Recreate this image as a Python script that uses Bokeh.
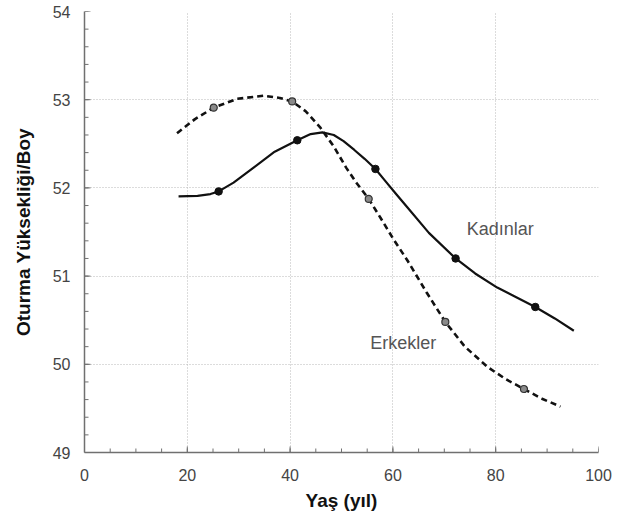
from bokeh.plotting import figure
from bokeh.models import Range1d, Label, FixedTicker
from bokeh.embed import file_html
from bokeh.resources import INLINE

# Curve traces
kadin_curve_x = [18.3, 22, 24.5, 26.1, 29, 32.9, 37, 41.4, 44, 46.3, 48.5, 50.4, 52.5,
                 54.5, 56.6, 58.5, 60.5, 62.8, 67, 72.2, 76, 80.3, 84, 87.7, 91.5, 95.2]
kadin_curve_y = [51.905, 51.91, 51.93, 51.96, 52.06, 52.23, 52.41, 52.54, 52.61, 52.63,
                 52.6, 52.53, 52.43, 52.33, 52.215, 52.08, 51.94, 51.78, 51.49, 51.2,
                 51.03, 50.87, 50.76, 50.65, 50.52, 50.38]
erkek_curve_x = [18.0, 21.5, 25.15, 29.7, 34.8, 38, 40.4, 43, 45.8, 48.5, 50.9, 53, 55.3,
                 57.7, 60.2, 62.8, 66.5, 70.2, 74, 78.4, 82, 85.5, 89, 92.6]
erkek_curve_y = [52.62, 52.78, 52.91, 53.01, 53.045, 53.02, 52.98, 52.87, 52.69, 52.47,
                 52.23, 52.05, 51.875, 51.65, 51.41, 51.18, 50.82, 50.48, 50.2, 49.97,
                 49.83, 49.72, 49.61, 49.52]

# Data markers
kadin_x = [26.1, 41.4, 56.6, 72.2, 87.7]
kadin_y = [51.96, 52.54, 52.215, 51.2, 50.65]
erkek_x = [25.15, 40.4, 55.3, 70.2, 85.5]
erkek_y = [52.91, 52.98, 51.875, 50.48, 49.72]

x_ticks = [0, 20, 40, 60, 80, 100]
y_ticks = [49, 50, 51, 52, 53, 54]
x_minor = list(range(0, 101, 5))
y_minor = [round(49 + 0.2 * i, 1) for i in range(26)]

FONT = "Liberation Sans"
AX = "#707070"

p = figure(width=629, height=522, output_backend="svg", toolbar_location=None,
           x_range=Range1d(0, 100), y_range=Range1d(49, 54),
           min_border_left=84, min_border_right=31, min_border_top=11,
           min_border_bottom=70)
p.outline_line_color = None
p.background_fill_color = "white"
p.border_fill_color = "white"

# grid
for g in (p.xgrid, p.ygrid):
    g.grid_line_color = "#b8b8b8"
    g.grid_line_dash = "1 2"
    g.grid_line_width = 1
p.xgrid.ticker = FixedTicker(ticks=x_ticks)
p.ygrid.ticker = FixedTicker(ticks=y_ticks)

# axes
p.xaxis.ticker = FixedTicker(ticks=x_ticks)
p.yaxis.ticker = FixedTicker(ticks=y_ticks)
for ax in (p.xaxis, p.yaxis):
    ax.axis_line_color = AX
    ax.axis_line_width = 1.5
    ax.major_tick_in = 0
    ax.major_tick_out = 0
    ax.minor_tick_in = 0
    ax.minor_tick_out = 0
    ax.major_label_text_font = FONT
    ax.major_label_text_font_size = "16px"
    ax.major_label_text_color = "#444444"
    ax.axis_label_text_font = FONT
    ax.axis_label_text_font_style = "bold"
    ax.axis_label_text_font_size = "19px"
    ax.axis_label_text_color = "#111111"
p.xaxis.major_label_standoff = 16
p.yaxis.major_label_standoff = 14
p.xaxis.axis_label = "Yaş (yıl)"
p.xaxis.axis_label_standoff = 6
p.yaxis.axis_label = "Oturma Yüksekliği/Boy"
p.yaxis.axis_label_standoff = 16

# inward tick marks (drawn inside the frame)
xmaj = 6 / 5.14
ymaj = 6 / 88.2
xmin_ = 4 / 5.14
ymin_ = 4 / 88.2
p.segment(x0=x_minor, y0=[49] * len(x_minor), x1=x_minor,
          y1=[49 + ymin_] * len(x_minor), line_color=AX, line_width=1)
p.segment(x0=x_ticks, y0=[49] * len(x_ticks), x1=x_ticks,
          y1=[49 + ymaj] * len(x_ticks), line_color=AX, line_width=1)
p.segment(x0=[0] * len(y_minor), y0=y_minor, x1=[xmin_] * len(y_minor), y1=y_minor,
          line_color=AX, line_width=1)
p.segment(x0=[0] * len(y_ticks), y0=y_ticks, x1=[xmaj] * len(y_ticks), y1=y_ticks,
          line_color=AX, line_width=1)

# curves
p.line(erkek_curve_x, erkek_curve_y, line_color="#111111", line_width=2.6,
       line_dash="6 4", line_join="round")
p.line(kadin_curve_x, kadin_curve_y, line_color="#111111", line_width=2.2,
       line_join="round")

p.scatter(erkek_x, erkek_y, size=7, fill_color="#8a8a8a", line_color="#333333",
          line_width=1.2)
p.scatter(kadin_x, kadin_y, size=7.5, fill_color="#111111", line_color="#111111")

# labels
p.add_layout(Label(x=80.9, y=51.53, text="Kadınlar", text_font=FONT,
                   text_font_size="18px", text_color="#555555",
                   text_align="center", text_baseline="middle"))
p.add_layout(Label(x=62.0, y=50.24, text="Erkekler", text_font=FONT,
                   text_font_size="18px", text_color="#555555",
                   text_align="center", text_baseline="middle"))

open("out.html", "w").write(file_html(p, INLINE))
